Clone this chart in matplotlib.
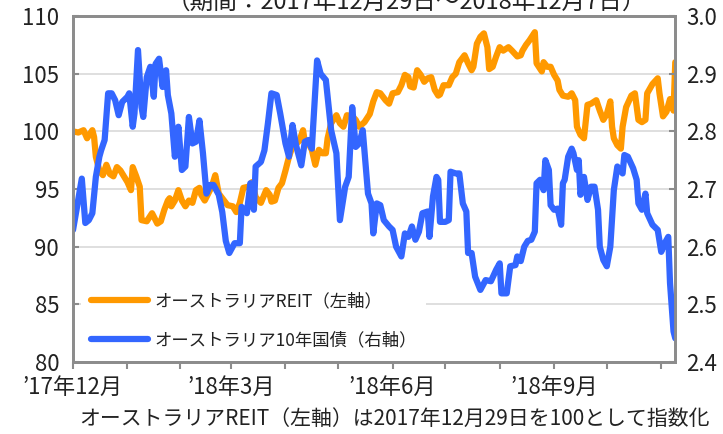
import matplotlib
matplotlib.use("Agg")
import matplotlib.pyplot as plt
import numpy as np
import pandas as pd

plt.rcParams['font.family'] = ['Noto Sans CJK JP', 'DejaVu Sans']

start = pd.Timestamp("2017-12-29")
end = pd.Timestamp("2018-12-07")

# オーストラリアREIT（2017/12/29=100） : 経過日数, 指数
reit_day = [0, 3, 6, 8, 11, 12, 13, 15, 17, 19, 21, 23, 25, 27, 29, 31, 33, 34, 36, 38,
            39, 42, 45, 48, 50, 52, 54, 55, 56, 58, 60, 62, 64, 66, 68, 70, 72, 73, 75, 77,
            79, 81, 83, 86, 88, 91, 93, 95, 97, 100, 102, 104, 107, 110, 112, 113, 115, 117, 119, 121,
            123, 125, 127, 129, 131, 132, 134, 136, 138, 140, 142, 144, 145, 147, 150, 152, 154, 156, 159, 161,
            163, 166, 169, 171, 173, 175, 178, 180, 182, 185, 187, 189, 191, 192, 194, 196, 198, 200, 202, 204,
            206, 208, 209, 211, 214, 216, 218, 220, 223, 225, 227, 228, 230, 232, 234, 236, 237, 239, 241, 243,
            245, 248, 250, 253, 255, 256, 258, 260, 263, 264, 267, 268, 270, 272, 274, 276, 277, 279, 282, 284,
            286, 287, 289, 291, 293, 295, 298, 300, 302, 304, 306, 307, 308, 310, 312, 313, 315, 318, 320, 322,
            324, 326, 327, 330, 333, 334, 336, 338, 340, 342, 343]
reit_val = [100.0, 99.9, 100.1, 99.4, 100.1, 99.5, 97.8, 96.6, 96.2, 97.1, 96.3, 96.1, 96.9, 96.6, 96.1, 95.6, 94.9, 96.9, 96.1, 95.2,
            92.3, 92.2, 92.9, 92.0, 92.2, 93.2, 94.0, 94.2, 93.5, 94.0, 94.9, 94.0, 93.5, 94.0, 93.8, 94.9, 95.1, 94.5, 94.0, 94.6,
            95.2, 96.2, 94.6, 94.0, 93.6, 93.5, 93.0, 93.8, 95.1, 95.2, 95.6, 94.3, 93.8, 94.9, 94.5, 93.9, 94.0, 95.1, 95.5, 96.6,
            97.8, 98.7, 98.9, 99.2, 100.1, 99.1, 99.0, 98.4, 97.1, 98.4, 98.1, 98.1, 99.4, 100.7, 101.4, 100.7, 100.4, 101.4, 101.3, 101.0,
            100.4, 100.8, 101.5, 102.6, 103.4, 103.3, 102.7, 102.4, 103.3, 103.4, 104.0, 104.9, 104.7, 103.9, 103.8, 105.3, 104.9, 104.3, 104.6, 104.7,
            103.6, 103.1, 103.2, 104.0, 104.0, 104.7, 105.0, 106.0, 106.6, 105.9, 105.3, 105.6, 107.6, 108.2, 108.5, 107.3, 105.4, 105.6, 106.5, 107.3,
            107.0, 107.3, 107.0, 106.5, 106.6, 107.0, 107.5, 107.9, 108.6, 105.9, 105.2, 106.0, 105.6, 105.6, 104.9, 104.4, 103.6, 103.1, 103.0, 103.3,
            102.7, 100.4, 99.7, 99.4, 102.3, 102.4, 102.7, 101.8, 101.0, 101.5, 102.6, 100.4, 99.4, 98.8, 98.5, 100.4, 102.1, 103.1, 103.3, 101.0,
            100.8, 101.0, 103.3, 104.1, 104.6, 103.3, 101.3, 101.7, 102.8, 101.8, 106.0]

# オーストラリア10年国債利回り（%）
bond_day = [0, 2, 5, 7, 9, 11, 13, 15, 16, 18, 20, 22, 24, 26, 28, 31, 32, 34, 35, 37,
            39, 40, 42, 44, 46, 47, 49, 51, 53, 54, 56, 58, 60, 62, 64, 66, 68, 70, 72, 74,
            76, 78, 80, 83, 85, 87, 89, 92, 95, 96, 99, 101, 103, 104, 107, 109, 111, 113, 116, 118,
            121, 123, 125, 127, 130, 132, 134, 136, 139, 141, 144, 147, 150, 152, 155, 157, 159, 161, 163, 165,
            168, 170, 171, 173, 175, 177, 180, 182, 184, 187, 189, 191, 193, 195, 197, 199, 202, 203, 205, 207,
            208, 209, 212, 214, 215, 218, 220, 222, 224, 225, 227, 229, 232, 235, 238, 241, 243, 244, 247, 249,
            252, 253, 255, 257, 259, 261, 263, 264, 266, 268, 269, 271, 272, 274, 276, 278, 279, 280, 282, 284,
            285, 287, 288, 289, 291, 293, 295, 297, 299, 300, 302, 304, 306, 308, 310, 313, 314, 316, 319, 321,
            322, 324, 326, 327, 330, 333, 335, 337, 339, 340, 342, 343]
bond_val = [2.629, 2.664, 2.718, 2.641, 2.646, 2.658, 2.721, 2.756, 2.767, 2.785, 2.866, 2.866, 2.854, 2.828, 2.851, 2.860, 2.866, 2.808, 2.831, 2.941,
            2.842, 2.825, 2.894, 2.912, 2.860, 2.917, 2.926, 2.877, 2.906, 2.863, 2.831, 2.756, 2.808, 2.733, 2.739, 2.825, 2.779, 2.782, 2.819, 2.762,
            2.692, 2.707, 2.707, 2.690, 2.660, 2.610, 2.589, 2.606, 2.606, 2.669, 2.658, 2.710, 2.664, 2.739, 2.747, 2.767, 2.814, 2.866, 2.863, 2.831,
            2.779, 2.756, 2.811, 2.776, 2.741, 2.782, 2.785, 2.770, 2.923, 2.900, 2.889, 2.802, 2.762, 2.646, 2.704, 2.721, 2.842, 2.773, 2.779, 2.802,
            2.692, 2.675, 2.623, 2.675, 2.672, 2.646, 2.635, 2.629, 2.600, 2.583, 2.623, 2.617, 2.635, 2.612, 2.626, 2.658, 2.661, 2.617, 2.687, 2.721,
            2.716, 2.643, 2.643, 2.646, 2.730, 2.727, 2.727, 2.675, 2.661, 2.589, 2.589, 2.548, 2.525, 2.542, 2.540, 2.560, 2.571, 2.519, 2.519, 2.566,
            2.568, 2.583, 2.575, 2.600, 2.610, 2.612, 2.626, 2.710, 2.716, 2.698, 2.750, 2.733, 2.672, 2.664, 2.666, 2.638, 2.710, 2.716, 2.756, 2.770,
            2.762, 2.733, 2.750, 2.690, 2.721, 2.681, 2.704, 2.704, 2.664, 2.600, 2.577, 2.566, 2.600, 2.698, 2.739, 2.727, 2.759, 2.756, 2.736, 2.716,
            2.675, 2.664, 2.692, 2.658, 2.638, 2.629, 2.591, 2.606, 2.617, 2.537, 2.453, 2.441]

tick_labels = ["’17年12月", "’18年3月", "’18年6月", "’18年9月"]

reit_dates = start + pd.to_timedelta(reit_day, unit="D")
bond_dates = start + pd.to_timedelta(bond_day, unit="D")

orange = "#FF9900"
blue = "#3366FF"
gray = "#8C8C8C"
txt = "#222222"

fig = plt.figure(figsize=(7.23, 4.34), dpi=100)
ax = fig.add_axes([0.101, 0.166, 0.833, 0.797])
ax2 = ax.twinx()

l1, = ax.plot(reit_dates, reit_val, color=orange, lw=4.5, solid_joinstyle="round",
              solid_capstyle="round", label="オーストラリアREIT（左軸）")
l2, = ax2.plot(bond_dates, bond_val, color=blue, lw=4.5, solid_joinstyle="round",
               solid_capstyle="round", label="オーストラリア10年国債（右軸）")

ax.set_ylim(80, 110)
ax.set_yticks(np.arange(80, 111, 5))
ax2.set_ylim(2.4, 3.0)
ax2.set_yticks(np.arange(2.4, 3.01, 0.1))
ax2.set_yticklabels([f"{v:.1f}" for v in np.arange(2.4, 3.01, 0.1)])
ax.set_xlim(start, end)

ax.grid(axis="y", color="#D9D9D9", lw=1.2)
ax.set_axisbelow(True)

# 月次目盛り（12/29起点）
ticks = [start + pd.DateOffset(months=i) for i in range(12)]
ax.set_xticks(ticks)
ax.set_xticklabels([tick_labels[i // 3] if i % 3 == 0 else "" for i in range(12)])

for a in (ax, ax2):
    for s in a.spines.values():
        s.set_color(gray)
        s.set_linewidth(2)
    a.tick_params(colors=gray, labelcolor=txt, labelsize=16)
ax.tick_params(axis="y", direction="in", length=4, width=1.5, pad=10)
ax2.tick_params(axis="y", direction="in", length=4, width=1.5, pad=8)
ax.tick_params(axis="x", direction="out", length=5, width=1.5, pad=5)

leg = ax2.legend(handles=[l1, l2], loc="lower left", bbox_to_anchor=(0.008, 0.0),
                 fontsize=12.5, frameon=True, fancybox=False, handlelength=3.3,
                 handletextpad=0.35, labelspacing=1.2, borderpad=0.55, borderaxespad=0.2)
leg.get_frame().set_facecolor("white")
leg.get_frame().set_edgecolor("none")
leg.get_frame().set_alpha(1)
for t in leg.get_texts():
    t.set_color(txt)

fig.text(0.562, 1 - 9 / 434, "（期間：2017年12月29日～2018年12月7日）", ha="center",
         va="baseline", fontsize=17, color=txt)
fig.text(0.545, 1 - 419 / 434, "オーストラリアREIT（左軸）は2017年12月29日を100として指数化",
         ha="center", va="center", fontsize=15, color=txt)

fig.savefig("out.png", dpi=100)
